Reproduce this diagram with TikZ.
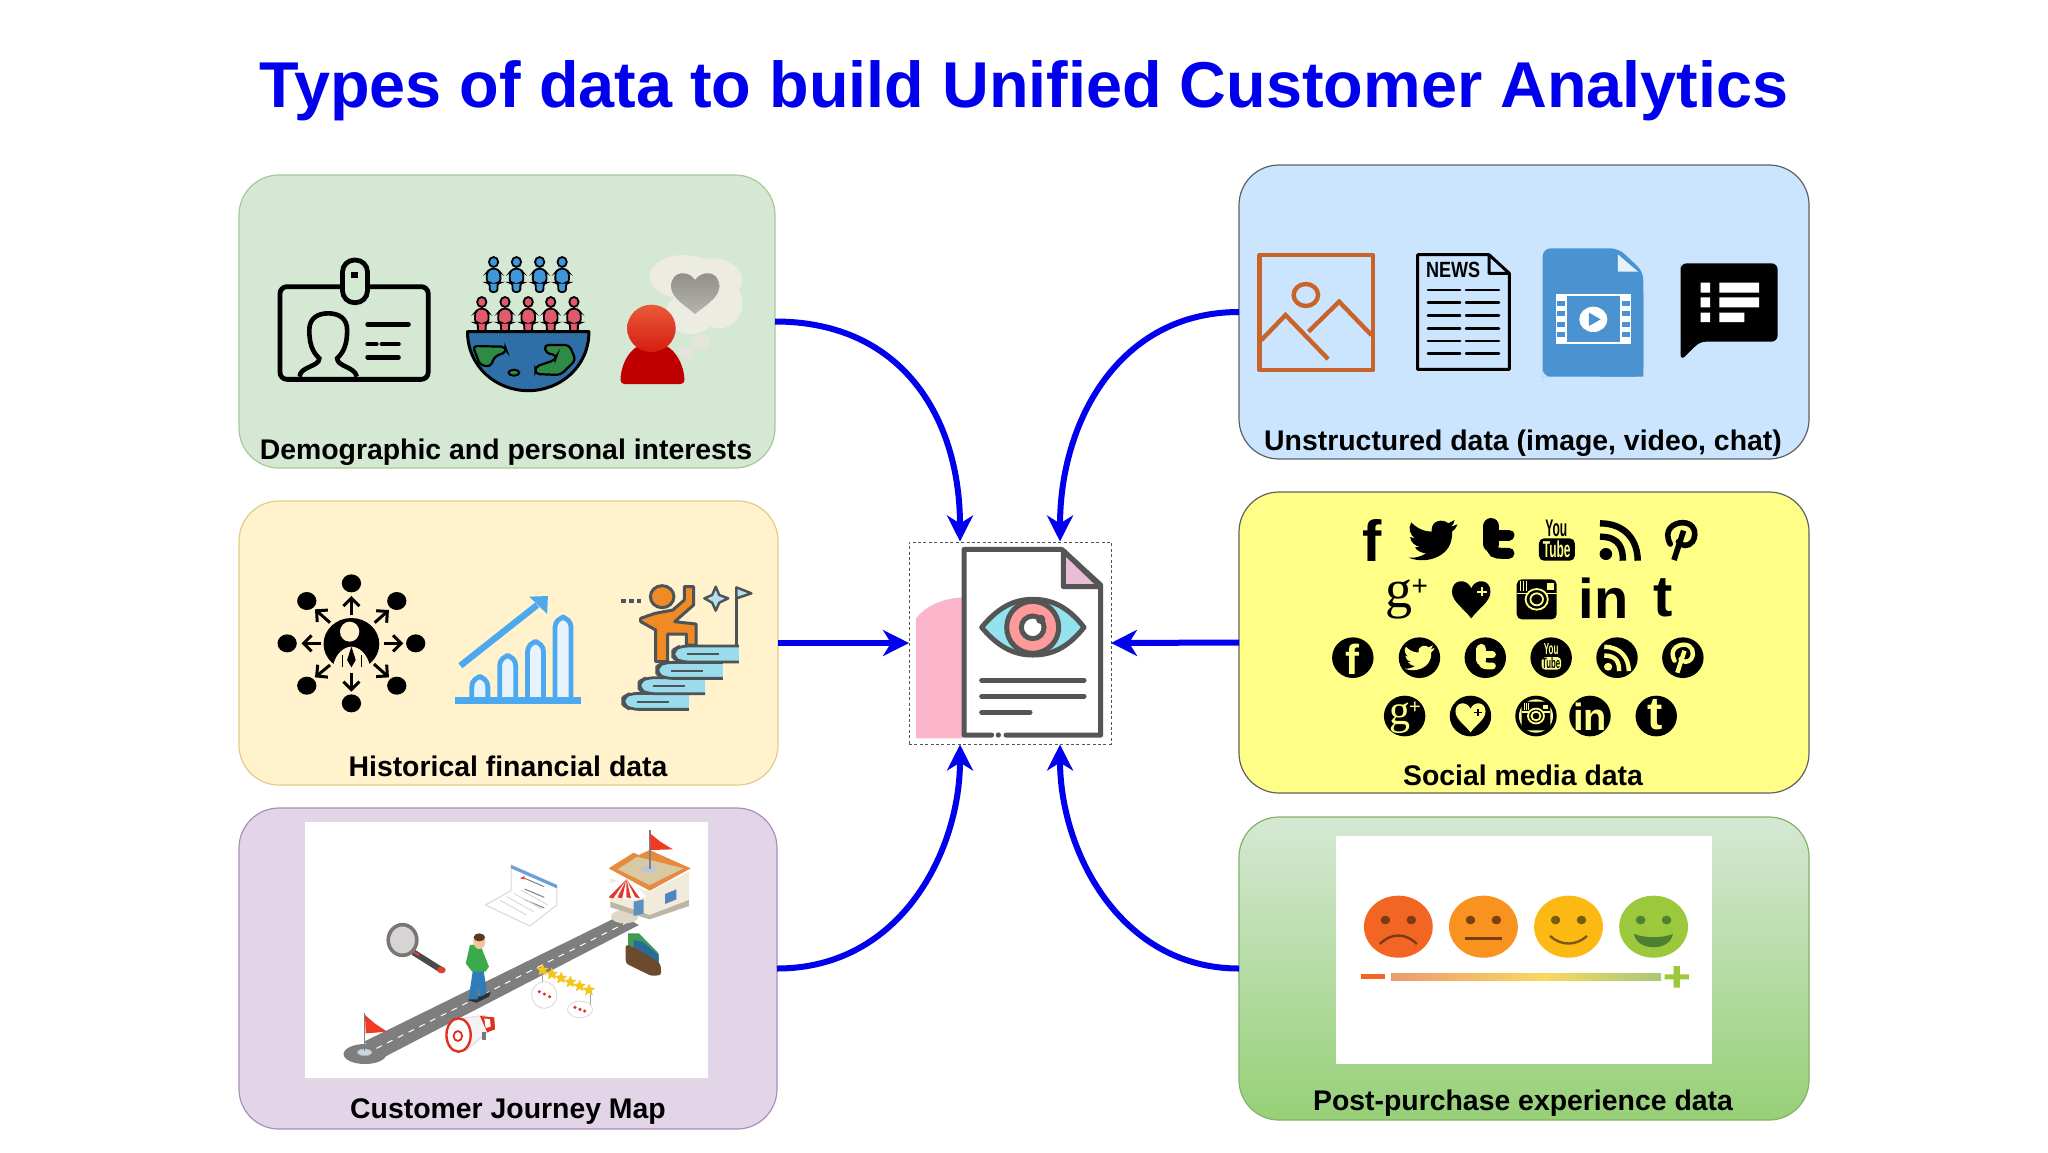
\documentclass[tikz,border=0pt]{standalone}
\usepackage{fontspec}
\usetikzlibrary{arrows.meta,shapes.geometric}
\setmainfont{Liberation Sans}
\newfontfamily\gserif{Liberation Serif}
\definecolor{blueline}{HTML}{0000EE}
\definecolor{ybg}{HTML}{FFFF88}
\definecolor{gbg}{HTML}{D5E8D4}
\definecolor{ink}{HTML}{555555}
\definecolor{grayb}{HTML}{4D5356}
\definecolor{orangei}{HTML}{C8632A}
\definecolor{bluei}{HTML}{4A92D0}
\definecolor{chartb}{HTML}{4DA9EF}
\definecolor{roadg}{HTML}{7E7E7E}
\newcommand\hxdef[1]{\definecolor{#1}{HTML}{#1}}
\makeatletter
\@for\hxitem:=82B366,D6B656,9673A6,36393D,FFF2CC,E1D5E7,CCE5FF,D5E8D4,97D077,3F97DA,E05A6B,2F6FA8,2E8B45,EDECE2,E5E4D8,8E8D88,B5B4AC,C00000,EA5A3A,D41E10,E6F3FD,9ADCEB,B5E0EE,F08A24,C9D6E0,B0B0B0,F03A24,4A4A4A,E04030,D8D4D4,777777,D4D8DC,6AA0D8,DADADA,2E2E2E,2E7CB8,3BAA4A,F2C4A0,5A3A20,E03020,EEEEEE,F5C518,D8D8D8,3F9A55,2A6A9A,6B4A2D,DFD8C6,F1EBDC,BDB6A5,E68A3E,D8C9A3,4F86BE,5A8FC0,E8E8E8,E03A30,B8C8D8,E8F2FA,F26522,F7931E,FDB913,9CC93B,7A3A18,7A3F12,7A5A10,4F7F33,EE9A70,F8D860,A8C878,FBB6CB,E8BDD5,93E3EE,FF9A9A,F3F3F3,DDDDDD\do{\expandafter\hxdef\expandafter{\hxitem}}
\makeatother
\tikzset{
  panel/.style={draw=#1,line width=.6pt,rounded corners=20pt,inner sep=0pt,outer sep=0pt},
  lab/.style={font=\fontsize{14.2}{16}\bfseries,text=black,inner sep=0pt},
  conn/.style={draw=blueline,line width=3pt,-{Stealth[length=13pt,width=13pt,inset=4pt]}},
  zA/.style 2 args={shift={(#1,#2)},x=.17857pt,y=-.16667pt},
  zB/.style 2 args={shift={(#1,#2)},x=.18498pt,y=-.16667pt},
  zC/.style 2 args={shift={(#1,#2)},x=.16667pt,y=-.16667pt},
  docline/.style={draw=ink,line width=2.5pt,line cap=round,line join=round},
}
\newcommand\zperson[3]{\begin{scope}[shift={(#1,#2)}]
  \filldraw[fill=#3,draw=black,line width=.9pt] (0,18) ellipse [x radius=13,y radius=15];
  \filldraw[fill=#3,draw=black,line width=.9pt,rounded corners=1.5pt] (-10,38)--(10,38)--(19,50)--(19,80)--(11,80)--(11,108)--(-11,108)--(-11,80)--(-19,80)--(-19,50)--cycle;
\end{scope}}
\newcommand\zbird[4]{\begin{scope}[shift={(#1,#2)},scale=#3,shift={(-549,-165)}]
  \fill[#4] (615,118)--(597,125) .. controls (603,120) and (606,113) .. (607,105)--(590,115) .. controls (575,100) and (542,105) .. (545,140) .. controls (525,140) and (505,130) .. (490,112) .. controls (480,130) and (487,150) .. (500,160)--(487,156) .. controls (488,172) and (500,182) .. (513,186)--(500,187) .. controls (505,197) and (515,203) .. (530,205) .. controls (515,215) and (500,220) .. (483,218) .. controls (530,240) and (605,215) .. (600,140) .. controls (607,135) and (612,127) .. (615,118)--cycle;
\end{scope}}
\newcommand\zheart[4]{\begin{scope}[shift={(#1,#2)},scale=#3]
  \fill[#4] (0,60) .. controls (-20,30) and (-52,10) .. (-52,-20) .. controls (-52,-60) and (-10,-60) .. (0,-30) .. controls (10,-60) and (52,-60) .. (52,-20) .. controls (52,10) and (20,30) .. (0,60)--cycle;
\end{scope}}
\newcommand\zrss[5]{\begin{scope}[shift={(#1,#2)},scale=#3]
  \fill[#4] (-40,42) ellipse [x radius=17,y radius=18];
  \draw[#4,line width=#5] (-56,-10) .. controls (0,-10) and (6,30) .. (6,62);
  \draw[#4,line width=#5] (-56,-50) .. controls (15,-50) and (46,5) .. (46,62);
\end{scope}}
\newcommand\zpin[4]{\begin{scope}[shift={(#1,#2)},scale=#3]
  \draw[#4,line cap=round] (-30,12) .. controls (-50,-30) and (-22,-52) .. (4,-52) .. controls (34,-52) and (44,-20) .. (30,5) .. controls (20,20) and (0,20) .. (-8,5);
  \draw[#4] (6,-28)--(-20,60);
\end{scope}}
\newcommand\ztee[6]{\begin{scope}[shift={(#1,#2)},scale=#3]
  \draw[#4,line width=#5,line cap=round] (-20,-42)--(-20,12);
  \draw[#4,line width=#6,line cap=round] (-20,8) .. controls (-20,38) and (-8,40) .. (10,40)--(28,40);
  \draw[#4,line width=#6,line cap=round] (-20,-15)--(28,-15);
\end{scope}}
\newcommand\zinsta[5]{\begin{scope}[shift={(#1,#2)},scale=#3]
  \fill[#4,rounded corners=2.5pt] (-54,-60) rectangle (54,60);
  \draw[#5,line width=.7pt] (-54,-17)--(-24,-17);\draw[#5,line width=.7pt] (24,-17)--(54,-17);
  \draw[#5,line width=.9pt] (0,0) ellipse [x radius=30,y radius=31];
  \draw[#5,line width=.9pt] (0,0) ellipse [x radius=17,y radius=18];
  \fill[#5] (28,-48) rectangle (46,-28);
  \foreach \q in {-44,-36,-28}{\draw[#5,line width=.5pt] (\q,-55)--(\q,-25);}
\end{scope}}
\begin{document}
\begin{tikzpicture}[x=.5pt,y=-.5pt]
\path[use as bounding box,fill=white] (0,0) rectangle (2048,1152);
% Title
\node[font=\fontsize{32.4}{36}\bfseries,text=blueline,inner sep=0pt] (title) at (1024,91) {Types of data to build Unified Customer Analytics};
% Panels
\node[panel=82B366!70,fill=gbg,minimum width=268pt,minimum height=146.5pt] (b1) at (507,321.5) {};
\node[panel=D6B656!70,fill=FFF2CC,minimum width=269.5pt,minimum height=142pt] (b2) at (508.5,643) {};
\node[panel=9673A6!80,fill=E1D5E7,minimum width=269pt,minimum height=160.5pt] (b3) at (508,968.5) {};
\node[panel=36393D!80,fill=CCE5FF,minimum width=285pt,minimum height=147pt] (b4) at (1524,312) {};
\node[panel=36393D!80,fill=ybg,minimum width=285pt,minimum height=150.5pt] (b5) at (1524,642.5) {};
\node[panel=82B366,top color=D5E8D4,bottom color=97D077,minimum width=285pt,minimum height=151.5pt] (b6) at (1524,968.5) {};
% Labels
\node[lab] (l1) at (506,452) {Demographic and personal interests};
\node[lab] (l2) at (508,766) {Historical financial data};
\node[lab] (l3) at (508,1112) {Customer Journey Map};
\node[lab] (l4) at (1523,443) {Unstructured data (image, video, chat)};
\node[lab] (l5) at (1523,775) {Social media data};
\node[lab] (l6) at (1523,1103) {Post-purchase experience data};
% ---------- Box 1 icons
\begin{scope}[zA={230}{170}]
  \draw[line width=2.4pt,rounded corners=3.5pt] (140,350) rectangle (555,628);
  \filldraw[fill=gbg,draw=black,line width=2.4pt,rounded corners=6pt] (315,270) rectangle (385,398);
  \fill (340,305) rectangle (358,325);
  \draw[line width=2.3pt] (195,620) .. controls (195,590) and (250,590) .. (250,565) .. controls (230,545) and (222,520) .. (222,480) .. controls (222,445) and (245,430) .. (275,430) .. controls (305,430) and (328,445) .. (328,480) .. controls (328,520) and (320,545) .. (300,565) .. controls (300,590) and (350,590) .. (355,620);
  \draw[line width=2.2pt,line cap=round] (385,463)--(500,463) (385,522)--(410,522) (425,522)--(472,522) (385,562)--(472,562);
  \foreach \q in {738,802,867,930}{\zperson{\q}{258}{3F97DA}}
  \foreach \q in {705,770,835,898,963}{\zperson{\q}{378}{E05A6B}}
  \filldraw[fill=2F6FA8,draw=black,line width=1.5pt,line join=round] (665,485)--(1005,485) .. controls (1005,590) and (925,662) .. (835,662) .. controls (745,662) and (665,590) .. (665,485)--cycle;
  \filldraw[fill=2E8B45,draw=black,line width=1.1pt,rounded corners=2pt] (680,528)--(770,530)--(775,545)--(740,560)--(730,590)--(700,585)--cycle;
  \filldraw[fill=2E8B45,draw=black,line width=1.1pt,rounded corners=2pt] (880,525)--(950,525)--(968,570)--(925,615)--(855,612)--(855,590)--(910,570)--(915,555)--(885,550)--cycle;
  \filldraw[fill=2E8B45,draw=black,line width=1pt] (795,608) ellipse [x radius=15,y radius=9];
  % thought
  \fill[EDECE2] (1270,320) ellipse [x radius=95,y radius=65] (1345,330) ellipse [x radius=90,y radius=65] (1370,400) ellipse [x radius=65,y radius=75] (1290,430) ellipse [x radius=70,y radius=62];
  \fill[E5E4D8] (1320,515) ellipse [x radius=25,y radius=25] (1275,548) ellipse [x radius=20,y radius=20];
  \shade[top color=8E8D88,bottom color=B5B4AC] (1302,432) .. controls (1280,410) and (1235,385) .. (1235,350) .. controls (1235,300) and (1285,300) .. (1302,330) .. controls (1320,300) and (1370,300) .. (1370,350) .. controls (1370,385) and (1325,410) .. (1302,432)--cycle;
  \fill[C00000,rounded corners=2pt] (1093,642) .. controls (1095,570) and (1130,520) .. (1182,520) .. controls (1235,520) and (1270,570) .. (1273,642)--cycle;
  \shade[top color=EA5A3A,bottom color=D41E10] (1180,475) ellipse [x radius=68,y radius=71];
\end{scope}
% ---------- Box 2 icons
\begin{scope}[zA={230}{490}]
  \fill (340,462) ellipse [x radius=78,y radius=78];
  \fill[FFF2CC] (288,530) .. controls (295,490) and (320,470) .. (340,470) .. controls (360,470) and (385,490) .. (392,530)--(392,545)--(288,545)--cycle;
  \fill[FFF2CC] (335,425) ellipse [x radius=27,y radius=30];
  \fill (340,470)--(352,510)--(340,532)--(328,510)--cycle;
  \draw[line width=.9pt] (315,495)--(315,532) (368,495)--(368,532);
  \foreach \p in {(340,280),(467,333),(520,460),(467,587),(340,640),(215,587),(160,460),(215,333)}{\fill \p ellipse [x radius=27,y radius=27];}
  \draw[line width=1.5pt,-{Straight Barb[length=4pt,width=8pt]}] (340,375)--(340,318);
  \draw[line width=1.5pt,-{Straight Barb[length=4pt,width=8pt]}] (405,398)--(445,360);
  \draw[line width=1.5pt,-{Straight Barb[length=4pt,width=8pt]}] (430,460)--(485,460);
  \draw[line width=1.5pt,-{Straight Barb[length=4pt,width=8pt]}] (403,522)--(445,562);
  \draw[line width=1.5pt,-{Straight Barb[length=4pt,width=8pt]}] (340,550)--(340,605);
  \draw[line width=1.5pt,-{Straight Barb[length=4pt,width=8pt]}] (280,525)--(238,562);
  \draw[line width=1.5pt,-{Straight Barb[length=4pt,width=8pt]}] (255,460)--(200,460);
  \draw[line width=1.5pt,-{Straight Barb[length=4pt,width=8pt]}] (280,398)--(238,358);
  % chart
  \foreach \l/\t in {672/560,750/497,828/455,905/382}{
    \filldraw[fill=E6F3FD,draw=chartb,line width=2.4pt,rounded corners=5pt] (\l+5,632)--(\l+5,\t)--(\l+50,\t)--(\l+50,632);}
  \draw[chartb,line width=3.4pt] (630,632)--(982,632);
  \draw[chartb,line width=3.2pt] (645,527)--(860,345);
  \fill[chartb] (838,320)--(890,318)--(888,372)--cycle;
  % climber
  \foreach \l/\t in {1100/610,1145/563,1195/517,1240/468}{
    \filldraw[fill=9ADCEB,draw=grayb,line width=1.4pt,rounded corners=4pt] (\l+185,\t)--(\l+20,\t)--(\l,\t+12)--(\l,\t+35)--(\l+20,\t+48)--(\l+185,\t+48);
    \draw[grayb,line width=1.1pt] (\l+40,\t+25)--(\l+130,\t+25);}
  \draw[grayb,line width=1.4pt] (1418,465)--(1418,290);
  \filldraw[fill=B5E0EE,draw=grayb,line width=1.2pt,line join=round] (1418,292)--(1460,310)--(1418,325)--cycle;
  \filldraw[fill=F08A24,draw=grayb,line width=1.5pt,line join=round] (1190,370)--(1240,360)--(1272,330)--(1272,290)--(1298,290)--(1298,345)--(1245,395)--(1305,402)--(1305,465)--(1278,465)--(1278,432)--(1225,432)--(1225,515)--(1192,515)--(1192,420)--(1150,395)--(1150,385)--cycle;
  \filldraw[fill=F08A24,draw=grayb,line width=1.5pt] (1210,320) ellipse [x radius=33,y radius=33];
  \filldraw[fill=B5E0EE,draw=grayb,line width=1.2pt,line join=round] (1360,290)--(1370,315)--(1395,325)--(1370,338)--(1360,362)--(1350,338)--(1328,325)--(1350,315)--cycle;
  \foreach \q in {1095,1117,1139}{\fill[grayb] (\q,327) rectangle (\q+13,338);}
\end{scope}
% ---------- Box 3 scene
\fill[white] (305,822) rectangle (708,1078);
\begin{scope}[zA={230}{800}]
  \fill[roadg] (378,762) ellipse [x radius=60,y radius=30];
  \fill[roadg] (375,725)--(1095,345)--(1145,375)--(425,775)--cycle;
  \draw[white,line width=.5pt,dash pattern=on 3pt off 3pt] (410,745)--(1115,365);
  \filldraw[fill=C9D6E0,draw=B0B0B0,line width=.3pt] (377,757) ellipse [x radius=20,y radius=10];
  \draw[gray,line width=.7pt] (377,638)--(377,752);
  \fill[F03A24] (378,645)--(405,670)--(440,695)--(380,700)--cycle;
  % magnifier
  \draw[4A4A4A,line width=3pt,line cap=round] (515,458)--(592,510);
  \draw[E04030,line width=1pt] (512,455)--(530,465);
  \fill[E04030] (592,510) ellipse [x radius=12,y radius=10];
  \filldraw[fill=D8D4D4,draw=777777,line width=1.8pt] (483,420) ellipse [x radius=40,y radius=46];
  % laptop
  \filldraw[fill=white,draw=D4D8DC,line width=.5pt,line join=round] (787,195)--(915,255)--(915,315)--(840,378)--(715,315)--(787,272)--cycle;
  \fill[6AA0D8] (787,195)--(915,255)--(915,265)--(787,205)--cycle;
  \foreach \q in {0,1,2}{\draw[gray,line width=.5pt] (825,{235+\q*32})--(880,{260+\q*32});}
  \fill[E04030] (812,235)--(825,228)--(825,238)--cycle;
  \foreach \q in {0,1,2,3}{\draw[DADADA,line width=.5pt] ({755+\q*20},{300-\q*10})--({830+\q*20},{345-\q*10});}
  % person
  \fill[2E2E2E] (665,600)--(695,590)--(730,575)--(725,590)--(690,608)--cycle;
  \fill[2E7CB8] (680,510)--(710,510)--(720,580)--(700,590)--(695,555)--(695,598)--(668,598)--cycle;
  \fill[3BAA4A] (672,435)--(700,432)--(725,500)--(715,515)--(678,515)--(660,490)--cycle;
  \fill[F2C4A0] (698,425) ellipse [x radius=17,y radius=22];
  \fill[5A3A20] (698,412) ellipse [x radius=16,y radius=12];
  % megaphone
  \filldraw[fill=F3F3F3,draw=DDDDDD,line width=.5pt,line join=round] (630,658)--(715,645)--(728,690)--(660,752)--cycle;
  \fill[E03020] (700,648)--(740,652)--(742,688)--(720,697)--cycle;
  \fill[white] (712,655)--(728,658)--(730,680)--(716,684)--cycle;
  \fill[777777] (706,695) rectangle (716,720);
  \filldraw[fill=white,draw=E03020,line width=1.2pt] (640,705) ellipse [x radius=34,y radius=50];
  \filldraw[fill=white,draw=E03020,line width=.9pt] (638,708) ellipse [x radius=12,y radius=15];
  % reviews
  \draw[gray!70,line width=.3pt] (875,510)--(1008,575);
  \draw[gray!70,line width=.5pt] (875,520)--(875,545) (1008,575)--(1008,622);
  \foreach \q in {0,1,2,3,4,5}{\node[star,star points=5,star point ratio=2.2,fill=F5C518,inner sep=0pt,minimum size=6.5pt] (st\q) at ({875+\q*26},{510+\q*12}) {};}
  \draw[D8D8D8,fill=white,line width=.4pt] (880,585) ellipse [x radius=35,y radius=40];
  \draw[D8D8D8,fill=white,line width=.4pt] (980,628) ellipse [x radius=35,y radius=25];
  \foreach \a/\b in {866/575,880/582,895/590,966/622,980/628,993/633}{\fill[E03020] (\a,\b) ellipse [x radius=5,y radius=5];}
  % wallet
  \fill[3F9A55] (1115,400)--(1145,400)--(1200,460)--(1200,490)--(1115,440)--cycle;
  \fill[2A6A9A] (1130,420)--(1155,425)--(1200,465)--(1200,490)--(1130,450)--cycle;
  \fill[6B4A2D,rounded corners=1.5pt] (1108,432)--(1145,450)--(1205,490)--(1208,525)--(1180,528)--(1108,490)--cycle;
  % shop
  \fill[DFD8C6] (1105,350) ellipse [x radius=38,y radius=20];
  \fill[F1EBDC] (1065,235)--(1175,275)--(1285,215)--(1285,305)--(1175,350)--(1065,310)--cycle;
  \fill[BDB6A5] (1065,305)--(1175,345)--(1285,300)--(1285,318)--(1175,358)--(1065,322)--cycle;
  \fill[E68A3E] (1060,205)--(1130,158)--(1145,165)--(1175,150)--(1290,205)--(1175,272)--cycle;
  \fill[D8C9A3] (1085,208)--(1140,170)--(1270,205)--(1175,255)--cycle;
  \fill[4F86BE] (1218,282)--(1250,268)--(1250,298)--(1218,312)--cycle;
  \fill[5A8FC0] (1130,305)--(1158,298)--(1158,340)--(1130,348)--cycle;
  \fill[white] (1055,270) .. controls (1060,235) and (1120,225) .. (1165,290)--(1130,300)--(1065,290)--cycle;
  \foreach \q in {1060,1085,1110,1135}{\fill[E03A30] (1110,238)--(\q,292)--(\q+13,295)--cycle;}
  \filldraw[fill=B8C8D8,draw=none] (1173,207) ellipse [x radius=22,y radius=10];
  \draw[gray,line width=.8pt] (1176,90)--(1176,207);
  \fill[F03A24] (1176,100)--(1205,125)--(1240,148)--(1178,150)--cycle;
\end{scope}
% ---------- Box 4 icons
\begin{scope}[zB={1230}{160}]
  \draw[orangei,line width=2.3pt,line join=round] (80,285) rectangle (387,630);
  \draw[orangei,line width=2.2pt] (205,405) ellipse [x radius=33,y radius=33];
  \draw[orangei,line width=2.2pt] (85,540)--(150,465)--(265,597) (212,515)--(295,425)--(382,525);
  \draw[line width=1.5pt,line join=round] (700,284)--(507,284)--(507,628)--(755,628)--(755,340)--(700,284)--(700,340)--(755,340);
  \node[font=\fontsize{11}{12}\bfseries,inner sep=0pt] (news) at (603,330) {\scalebox{.82}[1]{NEWS}};
  \foreach \q in {390,428,466,505,543,581}{\draw[line width=1.3pt,line cap=round] (535,\q)--(622,\q) (638,\q)--(727,\q);}
  \fill[bluei,rounded corners=4pt] (845,640)--(845,265)--(900,265)--(1050,265)--(1117,335)--(1117,650)--(860,650)--(845,650)--cycle;
  \fill[bluei] (1000,650)--(1117,650)--(1117,400)--cycle;
  \fill[E8F2FA] (1048,283)--(1048,335)--(1103,335)--cycle;
  \fill[white] (880,402) rectangle (1085,552);
  \fill[bluei] (910,407) rectangle (1055,547);
  \foreach \q in {422,453,485,515}{\fill[bluei] (885,\q) rectangle (905,\q+15); \fill[bluei] (1060,\q) rectangle (1080,\q+15);}
  \fill[white] (982,478) ellipse [x radius=38,y radius=38];
  \fill[bluei] (970,458)--(1002,478)--(970,498)--cycle;
  \fill[black,rounded corners=3pt] (1218,330)--(1218,310)--(1480,310)--(1480,545)--(1270,545)--(1218,602)--cycle;
  \fill[black] (1218,530) rectangle (1270,546);
  \fill[white] (1272,368) rectangle (1298,398) (1272,412) rectangle (1298,442) (1272,458) rectangle (1298,486);
  \fill[white] (1323,368) rectangle (1430,398) (1323,412) rectangle (1430,442) (1323,458) rectangle (1390,486);
\end{scope}
% ---------- Box 5 icons
\begin{scope}[zB={1230}{485}]
  % row 1
  \node[font=\fontsize{29}{30}\bfseries,inner sep=0pt] (sf) at (385,165) {f};
  \zbird{549}{165}{1}{black}
  \ztee{726}{165}{1}{black}{8pt}{5.5pt}
  \node[font=\fontsize{12}{13}\bfseries,inner sep=0pt] (sy) at (882,130) {\scalebox{.5}[1]{You}};
  \fill[rounded corners=2.5pt] (835,160) rectangle (932,227);
  \node[font=\fontsize{11.5}{12}\bfseries,text=ybg,inner sep=0pt] (st) at (883,194) {\scalebox{.52}[1]{Tube}};
  \zrss{1056}{165}{1}{black}{3.2pt}
  \zpin{1220}{165}{1}{black,line width=2.8pt}
  % row 2
  \node[font=\gserif\fontsize{27}{28}\selectfont,inner sep=0pt] (sg) at (458,342) {g};
  \node[font=\fontsize{14}{15}\selectfont,inner sep=0pt] (sp) at (513,307) {+};
  \zheart{652}{340}{1}{black}
  \draw[ybg,line width=1.1pt] (668,320)--(694,320) (681,306)--(681,334);
  \zinsta{829}{343}{1}{black}{ybg}
  \node[font=\fontsize{28}{30}\bfseries,inner sep=0pt] (sin) at (1010,341) {in};
  \node[font=\fontsize{29}{30}\bfseries,inner sep=0pt] (stt) at (1170,338) {t};
  % row 3
  \foreach \q in {332,512,690,868,1046,1224}{\fill (\q,518) ellipse [x radius=56,y radius=61];}
  \node[font=\fontsize{21}{22}\bfseries,text=ybg,inner sep=0pt] (cf) at (332,522) {f};
  \zbird{512}{518}{.62}{ybg}
  \ztee{692}{518}{.62}{ybg}{5pt}{3.4pt}
  \node[font=\fontsize{8}{9}\bfseries,text=ybg,inner sep=0pt] (cy) at (868,492) {\scalebox{.5}[1]{You}};
  \fill[ybg,rounded corners=2pt] (842,516) rectangle (895,554);
  \node[font=\fontsize{7.5}{8}\bfseries,inner sep=0pt] (ct) at (868,535) {\scalebox{.52}[1]{Tube}};
  \zrss{1048}{518}{.65}{ybg}{2.2pt}
  \zpin{1224}{518}{.75}{ybg,line width=2.2pt}
  % row 4
  \foreach \q in {472,650,827,973,1152}{\fill (\q,693) ellipse [x radius=56,y radius=61];}
  \node[font=\gserif\fontsize{21}{22}\selectfont,text=ybg,inner sep=0pt] (cg) at (460,700) {g};
  \node[font=\fontsize{10}{11}\selectfont,text=ybg,inner sep=0pt] (cp) at (500,668) {+};
  \zheart{650}{695}{.78}{ybg}
  \draw[black,line width=.8pt] (660,682)--(682,682) (671,671)--(671,693);
  \fill[ybg] (827,693) ellipse [x radius=46,y radius=50];
  \zinsta{827}{693}{.72}{black}{ybg}
  \node[font=\fontsize{19}{20}\bfseries,text=ybg,inner sep=0pt] (cin) at (973,695) {in};
  \node[font=\fontsize{23}{24}\bfseries,text=ybg,inner sep=0pt] (ctt) at (1150,690) {t};
\end{scope}
% ---------- Box 6 icons
\fill[white] (1336,836) rectangle (1712,1064);
\begin{scope}[zB={1230}{810}]
  \foreach \q/\cc in {455/F26522,685/F7931E,915/FDB913,1145/9CC93B}{\fill[\cc] (\q,350) ellipse [x radius=93,y radius=93];}
  \foreach \q/\cc in {455/7A3A18,685/7A3F12,915/7A5A10,1145/4F7F33}{\fill[\cc] (\q-35,330) ellipse [x radius=13,y radius=13]; \fill[\cc] (\q+35,330) ellipse [x radius=13,y radius=13];}
  \draw[7A3A18,line width=1.2pt] (405,402) .. controls (435,368) and (475,368) .. (505,402);
  \draw[7A3F12,line width=1.2pt] (635,385)--(735,385);
  \draw[7A5A10,line width=1.2pt] (865,378) .. controls (895,408) and (935,408) .. (965,378);
  \fill[4F7F33] (1092,372) .. controls (1125,385) and (1165,385) .. (1197,372) .. controls (1190,425) and (1100,425) .. (1092,372)--cycle;
  \fill[F26522] (355,493) rectangle (420,508);
  \shade[left color=EE9A70,right color=F8D860] (435,490) rectangle (850,512);
  \shade[left color=F8D860,right color=A8C878] (850,490) rectangle (1165,512);
  \fill[9CC93B] (1175,493) rectangle (1240,508) (1199,468) rectangle (1216,533);
\end{scope}
% ---------- Center document
\node[draw=ink,line width=.5pt,dash pattern=on 1.5pt off 1.2pt,minimum width=101pt,minimum height=101pt,inner sep=0pt,outer sep=0pt] (c) at (1010,643) {};
\begin{scope}[zC={880}{520}]
  \fill[FBB6CB] (108,655)--(108,295) .. controls (140,255) and (190,235) .. (248,232)--(248,655)--cycle;
  \fill[white] (252,88)--(545,88)--(662,195)--(662,645)--(252,645)--cycle;
  \filldraw[fill=E8BDD5,draw=ink,line width=2.5pt,line join=round] (550,92)--(550,200)--(662,200)--cycle;
  \draw[docline] (335,645)--(252,645)--(252,88)--(545,88)--(662,195)--(662,645)--(378,645);
  \fill[ink] (355,645) ellipse [x radius=8,y radius=8];
  \filldraw[fill=93E3EE,draw=ink,line width=2.5pt,line join=round] (305,322) .. controls (360,255) and (410,238) .. (458,238) .. controls (510,238) and (560,255) .. (612,322) .. controls (560,388) and (510,405) .. (458,405) .. controls (410,405) and (360,388) .. (305,322)--cycle;
  \filldraw[fill=FF9A9A,draw=ink,line width=2.5pt] (458,322) ellipse [x radius=78,y radius=78];
  \filldraw[fill=white,draw=ink,line width=2.5pt] (458,322) ellipse [x radius=34,y radius=34];
  \fill[ink] (482,298) ellipse [x radius=14,y radius=14];
  \draw[docline] (305,481)--(612,481) (305,529)--(612,529) (305,577)--(450,577);
\end{scope}
% Connectors
\coordinate (c1) at (960,541.5);
\coordinate (c2) at (1060,541.5);
\coordinate (c3) at (960,744.5);
\coordinate (c4) at (1060,744.5);
\draw[conn] (b1.east) .. controls +(130,0) and +(0,-120) .. (c1);
\draw[conn] (b4.west) .. controls +(-120,0) and +(0,-120) .. (c2);
\draw[conn] (b3.east) .. controls +(125,0) and +(0,105) .. (c3);
\draw[conn] (b6.west) .. controls +(-120,0) and +(0,105) .. (c4);
\draw[conn] (b2.east) -- (c.west);
\draw[conn] (b5.west) -- (c.east);
\end{tikzpicture}
\end{document}
